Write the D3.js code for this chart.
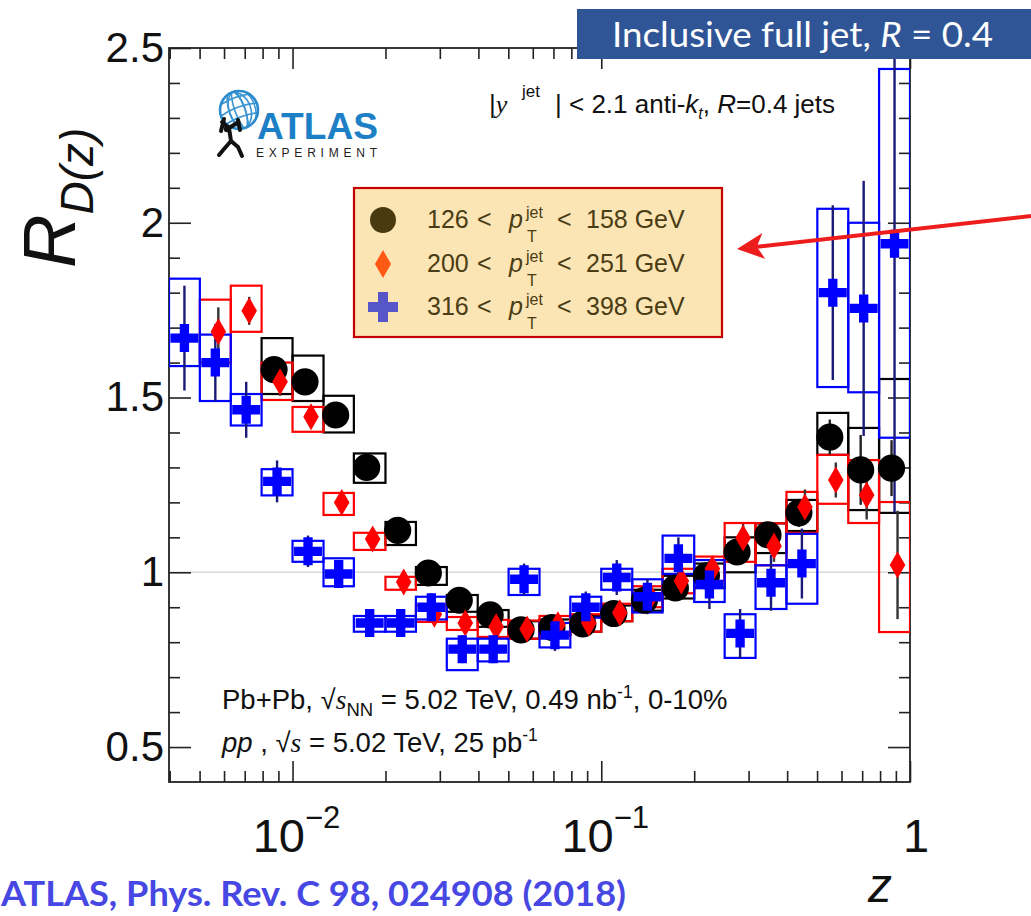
<!DOCTYPE html>
<html>
<head>
<meta charset="utf-8">
<script src="https://cdn.jsdelivr.net/npm/d3@7"></script>
<style>
  body { margin: 0; background: #fff; }
  svg { display: block; }
  text { font-family: "Liberation Sans", Arial, Helvetica, sans-serif; }
</style>
</head>
<body>
<div id="chart"></div>
<script>
// z bin edges (log spaced, shared by all three pT ranges)
const zEdges = [0.00398, 0.00501, 0.00631, 0.00794, 0.01, 0.0126, 0.0158, 0.02, 0.0251,
  0.0316, 0.0398, 0.0501, 0.0631, 0.0794, 0.1, 0.126, 0.158, 0.2, 0.251, 0.316,
  0.398, 0.501, 0.631, 0.794, 1.0];

// 126 < pT < 158 GeV (starts at bin 3)
const blackStart = 3;
const blackVal   = [1.58, 1.545, 1.45, 1.30, 1.12, 0.998, 0.92, 0.878, 0.835, 0.842, 0.852,
  0.882, 0.92, 0.955, 0.99, 1.058, 1.107, 1.17, 1.387, 1.293, 1.298];
const blackSysLo = [1.51, 1.49, 1.40, 1.256, 1.078, 0.964, 0.887, 0.844, 0.81, 0.82, 0.83,
  0.86, 0.89, 0.925, 0.955, 1.00, 1.055, 1.118, 1.336, 1.178, 1.17];
const blackSysHi = [1.67, 1.62, 1.505, 1.34, 1.144, 1.015, 0.935, 0.892, 0.86, 0.865, 0.875,
  0.905, 0.95, 0.99, 1.025, 1.10, 1.14, 1.207, 1.456, 1.413, 1.553];
const blackStat  = [0.03, 0.03, 0.03, 0.025, 0.02, 0.02, 0.02, 0.02, 0.02, 0.02, 0.02,
  0.02, 0.02, 0.025, 0.025, 0.03, 0.035, 0.04, 0.05, 0.1, 0.08];

// 200 < pT < 251 GeV (starts at bin 1)
const redStart = 1;
const redVal   = [1.688, 1.748, 1.545, 1.445, 1.20, 1.095, 0.972, 0.88, 0.855, 0.844, 0.838,
  0.85, 0.855, 0.884, 0.93, 0.975, 1.01, 1.098, 1.075, 1.187, 1.264, 1.221, 1.021];
const redSysLo = [1.60, 1.688, 1.493, 1.402, 1.164, 1.064, 0.95, 0.858, 0.835, 0.815, 0.81,
  0.82, 0.83, 0.86, 0.90, 0.94, 0.975, 1.03, 1.02, 1.113, 1.196, 1.141, 0.829];
const redSysHi = [1.78, 1.82, 1.60, 1.473, 1.227, 1.113, 0.987, 0.905, 0.872, 0.864, 0.862,
  0.875, 0.88, 0.91, 0.96, 1.01, 1.045, 1.141, 1.14, 1.23, 1.336, 1.321, 1.201];
const redStat  = [0.07, 0.04, 0.04, 0.03, 0.03, 0.03, 0.03, 0.025, 0.025, 0.02, 0.02,
  0.02, 0.02, 0.02, 0.025, 0.03, 0.03, 0.04, 0.045, 0.05, 0.05, 0.07, 0.155];

// 316 < pT < 398 GeV (starts at bin 0)
const blueStart = 0;
const blueVal   = [1.67, 1.60, 1.465, 1.26, 1.06, 0.995, 0.855, 0.855, 0.90, 0.78, 0.78, 0.98,
  0.82, 0.90, 0.985, 0.93, 1.04, 0.965, 0.825, 0.97, 1.025, 1.80, 1.755, 1.94];
const blueSysLo = [1.59, 1.49, 1.42, 1.22, 1.03, 0.96, 0.83, 0.83, 0.865, 0.72, 0.745, 0.935,
  0.785, 0.87, 0.95, 0.885, 0.995, 0.915, 0.755, 0.895, 0.91, 1.53, 1.515, 1.385];
const blueSysHi = [1.84, 1.68, 1.51, 1.295, 1.09, 1.04, 0.875, 0.875, 0.93, 0.81, 0.81, 1.01,
  0.855, 0.93, 1.01, 0.98, 1.105, 1.035, 0.88, 1.02, 1.11, 2.04, 2.00, 2.44];
const blueStat  = [0.15, 0.11, 0.08, 0.06, 0.045, 0.04, 0.04, 0.04, 0.04, 0.04, 0.04, 0.045,
  0.045, 0.045, 0.05, 0.05, 0.06, 0.07, 0.07, 0.08, 0.10, 0.25, 0.365, 0.77];

const legendLabels = [["126", "158"], ["200", "251"], ["316", "398"]];
const yMajor = [0.5, 1, 1.5, 2, 2.5];
const xMajor = [0.01, 0.1, 1];
const xMajorExp = ["\u22122", "\u22121", ""];

const W = 1031, H = 916;
const frame = { left: 169, right: 910, top: 48, bottom: 782 };

const svg = d3.select('#chart').append('svg')
  .attr('width', W).attr('height', H);

const x = d3.scaleLog()
  .domain([zEdges[0], zEdges[zEdges.length - 1]])
  .range([frame.left, frame.right]);
const y = d3.scaleLinear()
  .domain([0.4, 2.5])
  .range([frame.bottom, frame.top]);

svg.append('clipPath').attr('id', 'plotclip')
  .append('rect')
  .attr('x', frame.left).attr('y', frame.top)
  .attr('width', frame.right - frame.left).attr('height', frame.bottom - frame.top);

// reference line at 1
svg.append('line')
  .attr('x1', frame.left).attr('x2', frame.right)
  .attr('y1', y(1)).attr('y2', y(1))
  .attr('stroke', '#d8d8d8').attr('stroke-width', 1.5);

// axes with inward ticks
const minorX = x.ticks().filter(v => !xMajor.some(m => Math.abs(m - v) < 1e-9));
const minorY = d3.range(5, 25).map(v => v / 10).filter(v => !yMajor.some(m => Math.abs(m - v) < 1e-9));

function styleAxis(g) {
  g.select('.domain').remove();
  g.selectAll('line').attr('stroke', '#222').attr('stroke-width', 1.6);
}

svg.append('g').attr('transform', `translate(0,${frame.bottom})`)
  .call(d3.axisBottom(x).tickValues(minorX).tickSize(-11).tickFormat('')).call(styleAxis);
svg.append('g').attr('transform', `translate(0,${frame.bottom})`)
  .call(d3.axisBottom(x).tickValues(xMajor).tickSize(-21).tickFormat('')).call(styleAxis);
svg.append('g').attr('transform', `translate(0,${frame.top})`)
  .call(d3.axisTop(x).tickValues(minorX).tickSize(-11).tickFormat('')).call(styleAxis);
svg.append('g').attr('transform', `translate(0,${frame.top})`)
  .call(d3.axisTop(x).tickValues(xMajor).tickSize(-21).tickFormat('')).call(styleAxis);

svg.append('g').attr('transform', `translate(${frame.left},0)`)
  .call(d3.axisLeft(y).tickValues(minorY).tickSize(-11).tickFormat('')).call(styleAxis);
const yAxisG = svg.append('g').attr('transform', `translate(${frame.left},0)`)
  .call(d3.axisLeft(y).tickValues(yMajor).tickSize(-22).tickPadding(5).tickFormat(d3.format('')))
  .call(styleAxis);
yAxisG.selectAll('text')
  .style('font-size', '42px').attr('fill', '#111')
  .style('font-family', '"Liberation Sans", Arial, sans-serif');
svg.append('g').attr('transform', `translate(${frame.right},0)`)
  .call(d3.axisRight(y).tickValues(minorY).tickSize(-11).tickFormat('')).call(styleAxis);
svg.append('g').attr('transform', `translate(${frame.right},0)`)
  .call(d3.axisRight(y).tickValues(yMajor).tickSize(-22).tickFormat('')).call(styleAxis);

// x tick labels 10^n
xMajor.forEach((v, i) => {
  const t = svg.append('text')
    .attr('x', x(v) + (xMajorExp[i] ? 4 : 6)).attr('y', 852)
    .attr('text-anchor', 'middle')
    .style('font-size', '47px').attr('fill', '#111');
  if (xMajorExp[i]) {
    t.append('tspan').text('10');
    t.append('tspan').attr('dy', -24).style('font-size', '31px').text(xMajorExp[i]);
  } else {
    t.text('1');
  }
});

// frame
svg.append('rect')
  .attr('x', frame.left).attr('y', frame.top)
  .attr('width', frame.right - frame.left).attr('height', frame.bottom - frame.top)
  .attr('fill', 'none').attr('stroke', '#222').attr('stroke-width', 1.8);

// series
const series = [
  { start: blackStart, val: blackVal, lo: blackSysLo, hi: blackSysHi, stat: blackStat,
    color: '#000', errColor: '#222', shift: -3, shape: d3.symbolCircle, size: 580 },
  { start: redStart, val: redVal, lo: redSysLo, hi: redSysHi, stat: redStat,
    color: '#ff0000', errColor: '#333', shift: 3, shape: d3.symbolDiamond, size: 210 },
  { start: blueStart, val: blueVal, lo: blueSysLo, hi: blueSysHi, stat: blueStat,
    color: '#0000ff', errColor: '#1a1a78', shift: 0, shape: d3.symbolCross, size: 435 }
];

function points(s) {
  return s.val.map((v, i) => {
    const k = s.start + i;
    const e0 = zEdges[k], e1 = zEdges[k + 1];
    return { v, lo: s.lo[i], hi: s.hi[i], stat: s.stat[i], e0, e1, zc: Math.sqrt(e0 * e1) };
  });
}

const plot = svg.append('g').attr('clip-path', 'url(#plotclip)');

series.forEach(s => {
  plot.append('g').selectAll('rect')
    .data(points(s)).enter().append('rect')
    .attr('x', d => x(d.e0)).attr('width', d => x(d.e1) - x(d.e0))
    .attr('y', d => y(d.hi)).attr('height', d => y(d.lo) - y(d.hi))
    .attr('fill', 'none').attr('stroke', s.color).attr('stroke-width', 2.2);
});

series.forEach(s => {
  plot.append('g').selectAll('line')
    .data(points(s)).enter().append('line')
    .attr('x1', d => x(d.zc) + s.shift).attr('x2', d => x(d.zc) + s.shift)
    .attr('y1', d => y(d.v - d.stat)).attr('y2', d => y(d.v + d.stat))
    .attr('stroke', s.errColor).attr('stroke-width', 2.4);
});

series.forEach(s => {
  plot.append('g').selectAll('path')
    .data(points(s)).enter().append('path')
    .attr('transform', d => `translate(${x(d.zc) + s.shift},${y(d.v)})`)
    .attr('d', d3.symbol(s.shape, s.size))
    .attr('fill', s.color);
});

// y axis title
const yTitle = svg.append('text')
  .attr('transform', 'translate(75,268) rotate(-90)')
  .attr('fill', '#111');
yTitle.append('tspan').style('font-size', '74px').style('font-style', 'italic').text('R');
yTitle.append('tspan').attr('dy', 18).style('font-size', '46px').style('font-style', 'italic').text('D(z)');

// x axis title
svg.append('text')
  .attr('x', 868).attr('y', 902)
  .style('font-size', '48px').style('font-style', 'italic').attr('fill', '#111')
  .text('z');

// ATLAS logo
const logo = svg.append('g');
logo.append('clipPath').attr('id', 'globeclip')
  .append('circle').attr('cx', 239).attr('cy', 110).attr('r', 19);
const globe = logo.append('g').attr('clip-path', 'url(#globeclip)')
  .attr('stroke', '#3a95d2').attr('fill', 'none').attr('stroke-width', 1.6);
[-14, -6, 3, 11].forEach(dx => globe.append('ellipse')
  .attr('cx', 239 + dx * 0.3).attr('cy', 110).attr('rx', Math.abs(dx) + 2).attr('ry', 20)
  .attr('transform', 'rotate(-20,239,110)'));
[-10, 0, 10].forEach(dy => globe.append('path')
  .attr('d', `M218,${110 + dy} Q239,${104 + dy} 260,${110 + dy}`)
  .attr('transform', 'rotate(-20,239,110)'));
logo.append('circle').attr('cx', 239).attr('cy', 110).attr('r', 19)
  .attr('fill', 'none').attr('stroke', '#2b8bcc').attr('stroke-width', 2.6);
logo.append('path')
  .attr('d', 'M222,122 L229,128 L237,123 M229,128 L231,141 L224,149 L219,155 M231,141 L238,147 L242,156 M224,119 L221,131 M238,120 L240,130')
  .attr('fill', 'none').attr('stroke', '#111').attr('stroke-width', 4).attr('stroke-linecap', 'round')
  .attr('stroke-linejoin', 'round');
logo.append('circle').attr('cx', 227).attr('cy', 129).attr('r', 3.2).attr('fill', '#111');
logo.append('text')
  .attr('x', 257).attr('y', 139)
  .attr('textLength', 121).attr('lengthAdjust', 'spacingAndGlyphs')
  .style('font-size', '36px').style('font-weight', 'bold').attr('fill', '#1d80c6')
  .text('ATLAS');
logo.append('text')
  .attr('x', 256).attr('y', 157)
  .attr('textLength', 121).attr('lengthAdjust', 'spacing')
  .style('font-size', '12px').attr('fill', '#222')
  .text('EXPERIMENT');

// selection text
const sel = svg.append('g').attr('fill', '#111').style('font-size', '26px');
sel.append('text').attr('x', 489).attr('y', 113).text('|')
  .append('tspan').style('font-family', '"Liberation Serif", "Times New Roman", serif')
  .style('font-style', 'italic').text('y');
sel.append('text').attr('x', 522).attr('y', 97).style('font-size', '17px').text('jet');
const selMain = sel.append('text').attr('x', 555).attr('y', 113);
selMain.append('tspan').text('| < 2.1 anti-');
selMain.append('tspan').style('font-style', 'italic').text('k');
selMain.append('tspan').attr('dy', 6).style('font-size', '16px').style('font-style', 'italic').text('t');
selMain.append('tspan').attr('dy', -6).text(', ');
selMain.append('tspan').style('font-style', 'italic').text('R');
selMain.append('tspan').text('=0.4 jets');

// legend
const legendColors = ['#4a3a10', '#ff5a14', '#5656c8'];
const legendShapes = [[d3.symbolCircle, 530], [d3.symbolDiamond, 226], [d3.symbolCross, 500]];
const legendRows = [228, 272, 315];
svg.append('rect')
  .attr('x', 354).attr('y', 188).attr('width', 368).attr('height', 149)
  .attr('fill', '#fce5b4').attr('stroke', '#c40000').attr('stroke-width', 2.2);
legendLabels.forEach((lab, i) => {
  const by = legendRows[i];
  svg.append('path')
    .attr('transform', `translate(383,${by - 8})`)
    .attr('d', d3.symbol(legendShapes[i][0], legendShapes[i][1]))
    .attr('fill', legendColors[i]);
  const g = svg.append('g').attr('fill', '#4a3c14').style('font-size', '25px');
  g.append('text').attr('x', 427).attr('y', by).text(lab[0]);
  g.append('text').attr('x', 477).attr('y', by).text('<');
  g.append('text').attr('x', 509).attr('y', by).style('font-style', 'italic').text('p');
  g.append('text').attr('x', 526).attr('y', by - 10).style('font-size', '16px').text('jet');
  g.append('text').attr('x', 527).attr('y', by + 14).style('font-size', '16px').text('T');
  g.append('text').attr('x', 557).attr('y', by).text('<');
  g.append('text').attr('x', 586).attr('y', by).text(lab[1] + ' GeV');
});

// collision info
const l1 = svg.append('text').attr('x', 222).attr('y', 709)
  .style('font-size', '27.5px').attr('fill', '#111');
l1.append('tspan').text('Pb+Pb, \u221A');
l1.append('tspan').style('font-family', '"Liberation Serif", serif').style('font-style', 'italic').text('s');
l1.append('tspan').attr('dy', 7).style('font-size', '18.5px').text('NN');
l1.append('tspan').attr('dy', -7).text(' = 5.02 TeV, 0.49 nb');
l1.append('tspan').attr('dy', -11).style('font-size', '17.5px').text('-1');
l1.append('tspan').attr('dy', 11).text(', 0-10%');

const l2 = svg.append('text').attr('x', 222).attr('y', 752)
  .style('font-size', '27.5px').attr('fill', '#111');
l2.append('tspan').style('font-style', 'italic').text('pp');
l2.append('tspan').text(' , \u221A');
l2.append('tspan').style('font-family', '"Liberation Serif", serif').style('font-style', 'italic').text('s');
l2.append('tspan').text(' = 5.02 TeV, 25 pb');
l2.append('tspan').attr('dy', -11).style('font-size', '17.5px').text('-1');

// banner
svg.append('rect')
  .attr('x', 577).attr('y', 9).attr('width', W - 577).attr('height', 50)
  .attr('fill', '#2f5597');
const ban = svg.append('text').attr('x', 612).attr('y', 47)
  .attr('textLength', 381).attr('lengthAdjust', 'spacingAndGlyphs')
  .style('font-family', 'Lato, "Open Sans", sans-serif').style('font-size', '34px')
  .attr('fill', '#fff');
ban.append('tspan').text('Inclusive full jet, ');
ban.append('tspan').style('font-style', 'italic').text('R');
ban.append('tspan').text(' = 0.4');

// arrow
const tip = [737, 249], tail = [1031, 216];
const len = Math.hypot(tail[0] - tip[0], tail[1] - tip[1]);
const ux = (tip[0] - tail[0]) / len, uy = (tip[1] - tail[1]) / len;
const bx = tip[0] - ux * 27, by = tip[1] - uy * 27;
const nx = -uy * 13, ny = ux * 13;
svg.append('line')
  .attr('x1', tail[0]).attr('y1', tail[1])
  .attr('x2', tip[0] - ux * 18).attr('y2', tip[1] - uy * 18)
  .attr('stroke', '#ee1d1d').attr('stroke-width', 4);
svg.append('path')
  .attr('d', `M${tip[0]},${tip[1]} L${bx + nx},${by + ny} L${tip[0] - ux * 20},${tip[1] - uy * 20} L${bx - nx},${by - ny} Z`)
  .attr('fill', '#ee1d1d');

// citation
svg.append('text').attr('x', 1).attr('y', 906)
  .attr('textLength', 625).attr('lengthAdjust', 'spacingAndGlyphs')
  .style('font-family', 'Lato, "Open Sans", sans-serif').style('font-size', '35px')
  .style('font-weight', 'bold').attr('fill', '#4747e3')
  .text('ATLAS, Phys. Rev. C 98, 024908 (2018)');
</script>
</body>
</html>
